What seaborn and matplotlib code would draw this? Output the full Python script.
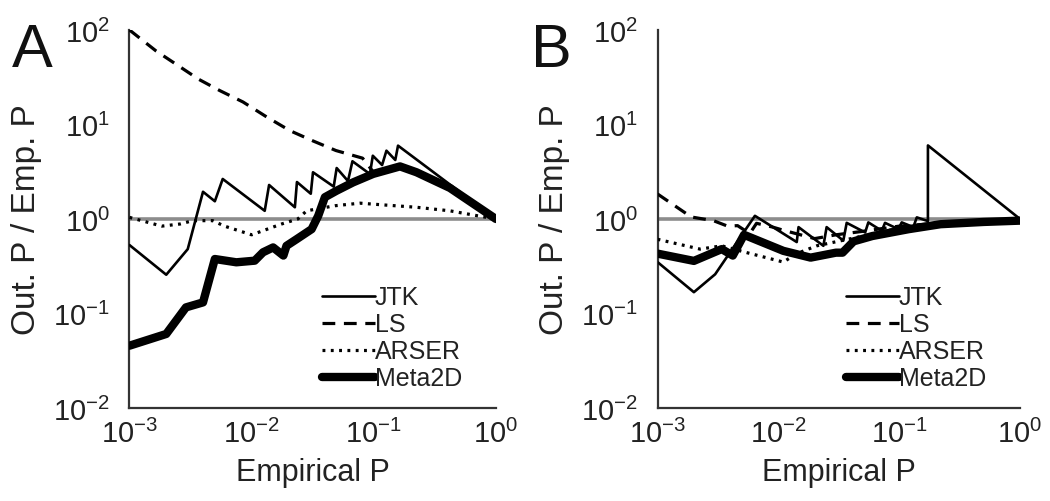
import matplotlib
matplotlib.use('Agg')
import matplotlib.pyplot as plt
import pandas as pd
import seaborn as sns

sns.set_theme(style='white')
plt.rcParams['font.family'] = ['Liberation Sans', 'DejaVu Sans']
plt.rcParams['mathtext.fontset'] = 'custom'
plt.rcParams['mathtext.rm'] = 'Liberation Sans'
plt.rcParams['mathtext.it'] = 'Liberation Sans:italic'
plt.rcParams['mathtext.bf'] = 'Liberation Sans:bold'

methods = ['JTK', 'LS', 'ARSER', 'Meta2D']
x_ticks = [1e-3, 1e-2, 1e-1, 1e0]
y_ticks = [1e-2, 1e-1, 1e0, 1e1, 1e2]

# Panel A: empirical P and output P / empirical P
a_jtk_p = [0.001, 0.002, 0.003, 0.004, 0.005, 0.0058, 0.0128, 0.0139, 0.0226, 0.0235,
           0.0305, 0.0318, 0.047, 0.0497, 0.0615, 0.0669, 0.093, 0.0982, 0.117, 0.127,
           0.15, 0.158, 1.0]
a_jtk_r = [0.53, 0.257, 0.48, 1.94, 1.54, 2.65, 1.22, 2.29, 1.33, 2.46,
           1.85, 3.12, 2.2, 3.46, 2.52, 4.08, 2.99, 4.67, 3.72, 5.28,
           4.21, 5.97, 1.0]
a_ls_p = [0.001, 0.00165, 0.0037, 0.0055, 0.0085, 0.0133, 0.0206, 0.0318, 0.049, 0.081,
          0.1, 0.164, 0.224, 0.42, 1.0]
a_ls_r = [100, 60, 30, 22.8, 17.3, 12, 8.6, 6.7, 5.3, 4.4,
          3.1, 3.55, 3.1, 2.1, 1.0]
a_arser_p = [0.001, 0.00184, 0.0026, 0.0033, 0.0048, 0.006, 0.01, 0.0176, 0.0239, 0.0282,
             0.048, 0.077, 0.119, 0.224, 0.42, 0.74, 1.0]
a_arser_r = [1.04, 0.84, 0.885, 0.96, 0.96, 0.84, 0.68, 0.885, 1.0, 1.22,
             1.38, 1.47, 1.41, 1.33, 1.22, 1.07, 1.0]
a_meta_p = [0.001, 0.002, 0.0029, 0.004, 0.005, 0.0075, 0.0106, 0.0124, 0.015, 0.0182,
            0.0193, 0.0233, 0.031, 0.0351, 0.0398, 0.0496, 0.0678, 0.099, 0.164, 0.224,
            0.42, 1.0]
a_meta_r = [0.0456, 0.0607, 0.116, 0.131, 0.377, 0.348, 0.362, 0.444, 0.50, 0.41,
            0.52, 0.61, 0.78, 1.08, 1.70, 1.99, 2.44, 3.0, 3.6, 3.12,
            2.13, 1.0]

# Panel B
b_jtk_p = [0.001, 0.002, 0.003, 0.0064, 0.0142, 0.0147, 0.0236, 0.0251, 0.0345, 0.0368,
           0.0523, 0.0556, 0.0718, 0.0764, 0.0985, 0.105, 0.131, 0.14, 0.173, 0.1731, 1.0]
b_jtk_r = [0.35, 0.168, 0.26, 1.08, 0.57, 0.82, 0.52, 0.82, 0.59, 0.91,
           0.72, 0.92, 0.75, 0.91, 0.78, 0.92, 0.82, 1.04, 0.95, 6.0, 1.0]
b_ls_p = [0.001, 0.0019, 0.0029, 0.0038, 0.0046, 0.0058, 0.0066, 0.009, 0.011, 0.02,
          0.03, 0.05, 0.1, 0.3, 1.0]
b_ls_r = [1.84, 1.05, 0.96, 0.84, 0.85, 0.7, 0.9, 0.82, 0.76, 0.62,
          0.68, 0.74, 0.84, 0.93, 1.0]
b_arser_p = [0.001, 0.00225, 0.0034, 0.0055, 0.011, 0.0142, 0.0208, 0.04, 0.1, 0.3, 1.0]
b_arser_r = [0.61, 0.48, 0.52, 0.44, 0.35, 0.43, 0.52, 0.62, 0.8, 0.9, 0.97]
b_meta_p = [0.001, 0.002, 0.0034, 0.0042, 0.0052, 0.011, 0.0185, 0.03, 0.034, 0.042,
            0.06, 0.12, 0.22, 0.5, 1.0]
b_meta_r = [0.43, 0.36, 0.48, 0.41, 0.68, 0.46, 0.39, 0.44, 0.44, 0.58,
            0.66, 0.78, 0.88, 0.93, 0.96]

panels = {
    'A': [(a_jtk_p, a_jtk_r), (a_ls_p, a_ls_r), (a_arser_p, a_arser_r), (a_meta_p, a_meta_r)],
    'B': [(b_jtk_p, b_jtk_r), (b_ls_p, b_ls_r), (b_arser_p, b_arser_r), (b_meta_p, b_meta_r)],
}

line_styles = {
    'JTK': dict(lw=1.9, ls='-'),
    'LS': dict(lw=2.3, dashes=(4, 2.7)),
    'ARSER': dict(lw=2.3, dashes=(0.9, 1.7)),
    'Meta2D': dict(lw=6.0, ls='-', solid_capstyle='round'),
}

fig = plt.figure(figsize=(10.5, 5.02), dpi=100)
axes = {
    'A': fig.add_axes([0.1233, 0.1853, 0.349, 0.753]),
    'B': fig.add_axes([0.6262, 0.1853, 0.3452, 0.753]),
}

for letter, ax in axes.items():
    ax.axhline(1.0, color='#8c8c8c', lw=2.6, zorder=1)
    for name, (p, r) in zip(methods, panels[letter]):
        df = pd.DataFrame({'emp': p, 'ratio': r})
        sns.lineplot(data=df, x='emp', y='ratio', ax=ax, color='black',
                     estimator=None, sort=False, label=name, zorder=3,
                     **line_styles[name])
    ax.set_xscale('log')
    ax.set_yscale('log')
    ax.set_xlim(1e-3, 1)
    ax.set_ylim(1e-2, 1e2)
    ax.set_xticks(x_ticks)
    ax.set_yticks(y_ticks)
    ax.minorticks_off()
    ax.tick_params(length=0, labelsize=21, colors='#222222')
    ax.tick_params(axis='y', pad=14)
    ax.tick_params(axis='x', pad=8)
    ax.set_xlabel('Empirical P', fontsize=22, color='#222222', labelpad=6)
    ax.set_ylabel('Out. P / Emp. P', fontsize=24, color='#222222', labelpad=8)
    sns.despine(ax=ax)
    for s in ['left', 'bottom']:
        ax.spines[s].set_color('#333333')
        ax.spines[s].set_linewidth(1.6)
    leg = ax.legend(loc='lower right', bbox_to_anchor=(0.955, 0.0), frameon=False,
                    fontsize=18, handlelength=2.1, handletextpad=0.0,
                    labelspacing=0.12, borderpad=0.2)
    for t in leg.get_texts():
        t.set_color('#222222')

fig.text(0.011, 0.955, 'A', fontsize=44, va='top', ha='left', color='#111111')
fig.text(0.506, 0.955, 'B', fontsize=44, va='top', ha='left', color='#111111')

fig.savefig('out.png', dpi=100)
